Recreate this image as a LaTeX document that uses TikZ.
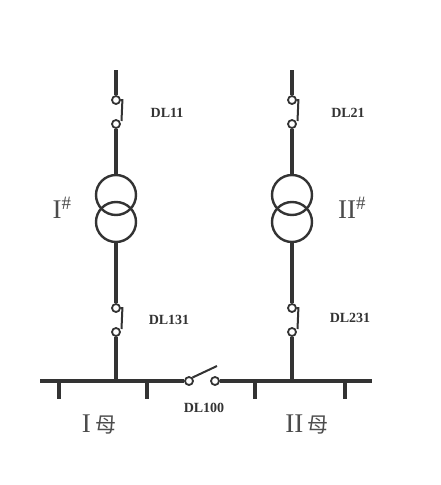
\documentclass[tikz,border=0pt]{standalone}
\usepackage{fontspec}
\setmainfont{Liberation Serif}
\newfontfamily\cjk{Noto Sans CJK SC}
\begin{document}
\begin{tikzpicture}[x=1pt,y=-1pt,
  ln/.style={line width=3.4pt,draw=black!80},
  thin/.style={line width=2pt,draw=black!80},
  term/.style={circle,draw=black!80,line width=1.8pt,fill=white,minimum size=8pt,inner sep=0pt},
  xf/.style={circle,draw=black!80,line width=2.4pt,minimum size=40pt,inner sep=0pt},
  lab/.style={font=\bfseries\fontsize{14}{15}\selectfont,text=black!80},
  big/.style={font=\fontsize{27}{30}\selectfont,text=black!70}]
\useasboundingbox (0,0) rectangle (441,485);
% left feeder
\coordinate (lt) at (116,70);
\node[term] (a1) at (116,100) {};
\node[term] (a2) at (116,124) {};
\node[xf] (t1a) at (116,195) {};
\node[xf] (t1b) at (116,222) {};
\node[term] (a3) at (116,308) {};
\node[term] (a4) at (116,332) {};
\coordinate (lb) at (116,381);
\draw[ln] (lt) -- (a1);
\draw[thin] (a1.east) -- ++(1.5,0) -- (121.5,121);
\draw[ln] (a2) -- (t1a.north);
\draw[ln] (t1b.south) -- (a3);
\draw[thin] (a3.east) -- ++(1.5,0) -- (121.5,329);
\draw[ln] (a4) -- (lb);
% right feeder
\coordinate (rt) at (292,70);
\node[term] (b1) at (292,100) {};
\node[term] (b2) at (292,124) {};
\node[xf] (t2a) at (292,195) {};
\node[xf] (t2b) at (292,222) {};
\node[term] (b3) at (292,308) {};
\node[term] (b4) at (292,332) {};
\coordinate (rb) at (292,381);
\draw[ln] (rt) -- (b1);
\draw[thin] (b1.east) -- ++(1.5,0) -- (297.5,121);
\draw[ln] (b2) -- (t2a.north);
\draw[ln] (t2b.south) -- (b3);
\draw[thin] (b3.east) -- ++(1.5,0) -- (297.5,329);
\draw[ln] (b4) -- (rb);
% buses
\coordinate (bl) at (40,381);
\coordinate (br) at (372,381);
\node[term] (c1) at (189,381) {};
\node[term] (c2) at (215,381) {};
\draw[ln] (bl) -- (c1);
\draw[ln] (c2) -- (br);
\draw[thin] (c1.north east) -- (217,366);
\foreach \x in {59,147,255,345} \draw[ln] (\x,381) -- (\x,399);
% labels
\node[lab] (l1) at (167,113) {DL11};
\node[lab] (l2) at (169,320) {DL131};
\node[lab] (l3) at (348,113) {DL21};
\node[lab] (l4) at (350,318) {DL231};
\node[lab] (l5) at (204,408) {DL100};
\node[big] (n1) at (62,208) {I\textsuperscript{\#}};
\node[big] (n2) at (352,208) {II\textsuperscript{\#}};
\node[big] (m1) at (99,425) {I\,{\cjk\fontsize{21}{24}\selectfont 母}};
\node[big] (m2) at (307,425) {II\,{\cjk\fontsize{21}{24}\selectfont 母}};
\end{tikzpicture}
\end{document}
